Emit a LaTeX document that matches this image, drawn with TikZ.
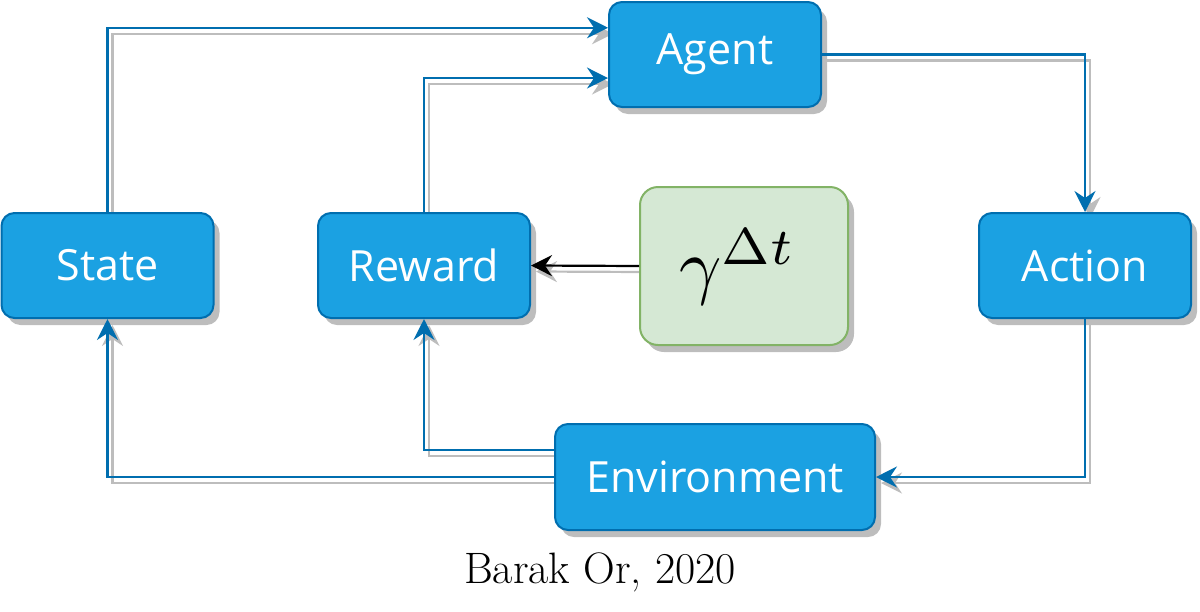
\documentclass[tikz,border=0pt]{standalone}
\usepackage{graphicx}
\usepackage{fontspec}
\newfontfamily\boxfont{Open Sans}
\usetikzlibrary{arrows.meta,shadows,calc}
\pgfdeclarelayer{background}
\pgfsetlayers{background,main}
\definecolor{bfill}{HTML}{1BA1E2}
\definecolor{bline}{HTML}{006EAF}
\definecolor{gfill}{HTML}{D5E8D4}
\definecolor{gline}{HTML}{82B366}
\definecolor{shd}{HTML}{BDBDBD}
\begin{document}
\begin{tikzpicture}[x=1pt,y=-1pt,
  boxshadow/.style={drop shadow={shadow xshift=6pt,shadow yshift=-7pt,fill=shd,opacity=1}},
  bluebox/.style={draw=bline,fill=bfill,line width=2pt,rounded corners=13pt,
    minimum width=212pt,minimum height=105pt,text=white,
    font=\boxfont\fontsize{43}{48}\selectfont,boxshadow},
  greenbox/.style={draw=gline,fill=gfill,line width=2pt,rounded corners=18pt,
    minimum width=208pt,minimum height=158pt,boxshadow},
  tip/.style={-{Stealth[length=21pt,width=21pt,inset=7pt]}},
  blueedge/.style={tip,draw=bline,line width=2.2pt},
  blackedge/.style={tip,draw=black,line width=2.2pt},
  edgeshadow/.style={tip,draw=shd,line width=2.2pt,transform canvas={xshift=5pt,yshift=-6pt}}
]
\useasboundingbox (0,0) rectangle (1200,611);
\node[bluebox] (agent) at (715,54.5) {Agent};
\node[bluebox] (state) at (107.5,265.5) {State};
\node[bluebox] (reward) at (424,265.5) {Reward};
\node[bluebox] (action) at (1085,265.5) {Action};
\node[bluebox,minimum width=320pt,minimum height=106pt] (env) at (715,477) {Environment};
\node[greenbox] (gamma) at (744,266) {};
\node (gammatext) at (738,267) {\scalebox{7.4}{$\gamma^{\Delta t}$}};
\node[font=\fontsize{44}{50}\selectfont] (credit) at (600,572) {Barak Or, 2020};

\coordinate (agA) at ($(agent.north west)!0.25!(agent.south west)$);
\coordinate (agB) at ($(agent.north west)!0.72!(agent.south west)$);
\coordinate (envA) at ($(env.north west)!0.25!(env.south west)$);

\begin{pgfonlayer}{background}
\draw[edgeshadow] (state.north) |- (agA);
\draw[edgeshadow] (reward.north) |- (agB);
\draw[edgeshadow] (agent.east) -| (action.north);
\draw[edgeshadow] (action.south) |- (env.east);
\draw[edgeshadow] (env.west) -| (state.south);
\draw[edgeshadow] (envA) -| (reward.south);
\draw[edgeshadow] (gamma.west) -- (reward.east);
\end{pgfonlayer}

\draw[blueedge] (state.north) |- (agA);
\draw[blueedge] (reward.north) |- (agB);
\draw[blueedge] (agent.east) -| (action.north);
\draw[blueedge] (action.south) |- (env.east);
\draw[blueedge] (env.west) -| (state.south);
\draw[blueedge] (envA) -| (reward.south);
\draw[blackedge] (gamma.west) -- (reward.east);
\end{tikzpicture}
\end{document}
